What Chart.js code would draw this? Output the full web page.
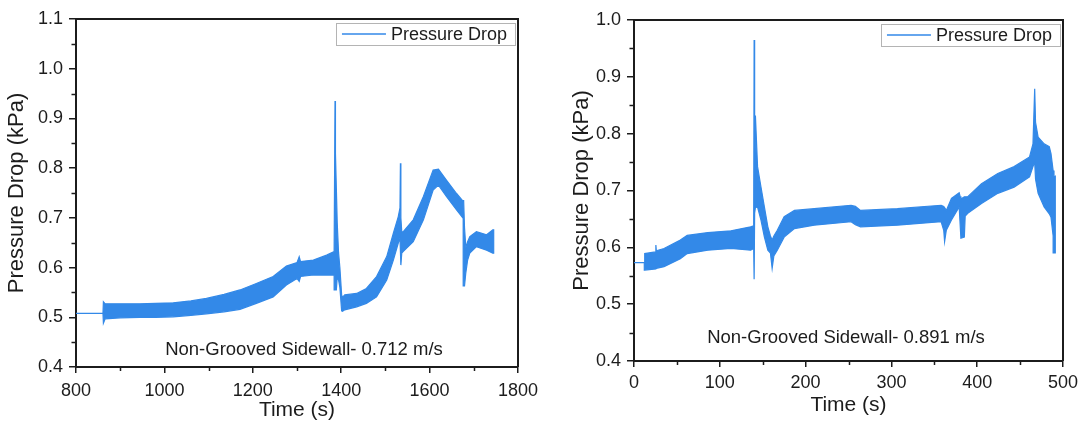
<!DOCTYPE html>
<html>
<head>
<meta charset="utf-8">
<script src="https://cdn.jsdelivr.net/npm/chart.js@4.4.1/dist/chart.umd.min.js"></script>
<style>
    html, body { margin: 0; padding: 0; background: #fff; }
    #wrap { display: flex; width: 1080px; height: 424px; }
    canvas { display: block; }
</style>
</head>
<body>
<div id="wrap">
    <canvas id="leftChart" width="540" height="424"></canvas>
    <canvas id="rightChart" width="540" height="424"></canvas>
</div>
<script>
// Left panel, 0.712 m/s. The signal is a dense noisy band, so it is kept
// as the upper and lower edge of that band.
var leftTime = [800, 861, 862, 866, 900, 944, 980, 1020, 1060, 1095, 1135, 1171, 1208, 1246, 1276, 1300,
    1305, 1308, 1337, 1367, 1384, 1385, 1386, 1387, 1389, 1391, 1394, 1397, 1401, 1403, 1408, 1435, 1457,
    1480, 1503, 1518, 1529, 1533, 1534, 1535, 1537, 1540, 1563, 1586, 1608, 1620, 1638, 1661, 1676, 1677,
    1679, 1682, 1686, 1691, 1706, 1729, 1743, 1745];
var leftUpper = [0.508, 0.508, 0.531, 0.527, 0.527, 0.527, 0.528, 0.529, 0.533, 0.538, 0.546, 0.555, 0.568, 0.582, 0.603, 0.610,
    0.622, 0.612, 0.615, 0.625, 0.632, 0.632, 0.935, 0.830, 0.760, 0.690, 0.630, 0.600, 0.545, 0.540, 0.545, 0.548, 0.558,
    0.582, 0.622, 0.669, 0.702, 0.720, 0.810, 0.700, 0.672, 0.672, 0.696, 0.743, 0.796, 0.798, 0.776, 0.749, 0.733, 0.736,
    0.680, 0.640, 0.652, 0.662, 0.672, 0.666, 0.676, 0.676];
var leftLower = [0.508, 0.508, 0.488, 0.497, 0.499, 0.500, 0.500, 0.501, 0.504, 0.507, 0.511, 0.516, 0.528, 0.541, 0.565, 0.578,
    0.572, 0.582, 0.585, 0.585, 0.585, 0.555, 0.555, 0.555, 0.555, 0.580, 0.575, 0.560, 0.513, 0.512, 0.515, 0.521, 0.528,
    0.541, 0.575, 0.615, 0.649, 0.660, 0.605, 0.605, 0.629, 0.632, 0.652, 0.696, 0.756, 0.766, 0.743, 0.716, 0.699, 0.563,
    0.563, 0.590, 0.615, 0.629, 0.642, 0.635, 0.629, 0.629];
var leftXTicks = [800, 1000, 1200, 1400, 1600, 1800];
var leftXMinor = [900, 1100, 1300, 1500, 1700];
var leftYTicks = [0.4, 0.5, 0.6, 0.7, 0.8, 0.9, 1.0, 1.1];
var leftYMinor = [0.45, 0.55, 0.65, 0.75, 0.85, 0.95, 1.05];
var leftNote = 'Non-Grooved Sidewall- 0.712 m/s';

// Right panel, 0.891 m/s
var rightTime = [0, 12, 12.5, 25, 25.5, 26, 35, 54, 62, 86, 113, 136, 139.5, 140, 140.6, 141.5, 144, 148, 152,
    156, 159, 161, 163, 167, 175, 187, 210, 253, 258, 264, 307, 358, 361, 362, 364, 370, 379, 380, 381, 385,
    386, 389, 405, 424, 443, 461, 465, 467, 468, 471, 478, 484, 486, 488.5, 489.5, 491];
var rightUpper = [0.573, 0.573, 0.589, 0.592, 0.604, 0.594, 0.598, 0.613, 0.621, 0.626, 0.629, 0.636, 0.638, 0.965, 0.700, 0.832, 0.742, 0.706, 0.671,
    0.636, 0.620, 0.613, 0.620, 0.630, 0.654, 0.665, 0.668, 0.674, 0.672, 0.665, 0.668, 0.674, 0.672, 0.670, 0.665, 0.686, 0.696, 0.690, 0.685, 0.689,
    0.689, 0.689, 0.712, 0.730, 0.742, 0.759, 0.782, 0.879, 0.820, 0.794, 0.782, 0.777, 0.765, 0.735, 0.724, 0.725];
var rightLower = [0.573, 0.573, 0.560, 0.562, 0.562, 0.563, 0.566, 0.580, 0.589, 0.595, 0.598, 0.595, 0.598, 0.544, 0.660, 0.670, 0.671, 0.648, 0.618,
    0.595, 0.590, 0.563, 0.585, 0.595, 0.618, 0.633, 0.639, 0.645, 0.640, 0.636, 0.639, 0.645, 0.630, 0.610, 0.630, 0.648, 0.671, 0.616, 0.616, 0.618,
    0.655, 0.660, 0.677, 0.695, 0.706, 0.724, 0.742, 0.750, 0.720, 0.695, 0.671, 0.659, 0.653, 0.620, 0.590, 0.590];
var rightXTicks = [0, 100, 200, 300, 400, 500];
var rightXMinor = [50, 150, 250, 350, 450];
var rightYTicks = [0.4, 0.5, 0.6, 0.7, 0.8, 0.9, 1.0];
var rightYMinor = [0.45, 0.55, 0.65, 0.75, 0.85, 0.95];
var rightNote = 'Non-Grooved Sidewall- 0.891 m/s';

(function (window) {

    var FONT = '"Liberation Sans", Arial, sans-serif';
    var INK = '#1c1c1c';
    var BLUE = '#3389e8';

    // outline of the noisy band: along the top edge, then back along the bottom
    function bandPoints(xs, top, bottom) {
        var pts = xs.map(function (x, i) { return { x: x, y: top[i] }; });
        for (var i = xs.length - 1; i >= 0; i--) {
            pts.push({ x: xs[i], y: bottom[i] });
        }
        return pts;
    }

    // box frame, minor ticks, the note under the curve and the boxed legend
    var decorPlugin = {
        id: 'decor',
        afterDraw: function (chart, args, o) {
            var ctx = chart.ctx;
            var a = chart.chartArea;
            var xs = chart.scales.x;
            var ys = chart.scales.y;
            ctx.save();

            ctx.strokeStyle = INK;
            ctx.lineWidth = 2;
            ctx.beginPath();
            ctx.moveTo(a.left, a.top);
            ctx.lineTo(a.right, a.top);
            ctx.lineTo(a.right, a.bottom);
            ctx.stroke();

            ctx.lineWidth = 1.5;
            ctx.beginPath();
            o.xMinor.forEach(function (v) {
                var px = Math.round(xs.getPixelForValue(v)) + 0.5;
                ctx.moveTo(px, a.bottom);
                ctx.lineTo(px, a.bottom + 4);
            });
            o.yMinor.forEach(function (v) {
                var py = Math.round(ys.getPixelForValue(v)) + 0.5;
                ctx.moveTo(a.left, py);
                ctx.lineTo(a.left - 4.5, py);
            });
            ctx.stroke();

            ctx.fillStyle = INK;
            ctx.font = '18.5px ' + FONT;
            ctx.textAlign = 'center';
            ctx.textBaseline = 'alphabetic';
            ctx.fillText(o.note, o.noteX, o.noteY);

            // legend
            var label = chart.data.datasets[0].label;
            ctx.font = '18px ' + FONT;
            var tw = ctx.measureText(label).width;
            var w = 6 + 44 + 5 + tw + 8;
            var h = 22;
            var bx = a.right - 3 - w;
            var by = a.top + 4;
            ctx.fillStyle = '#ffffff';
            ctx.fillRect(bx, by, w, h);
            ctx.strokeStyle = '#b4b4b4';
            ctx.lineWidth = 1;
            ctx.strokeRect(Math.round(bx) + 0.5, Math.round(by) + 0.5, Math.round(w), h);
            ctx.strokeStyle = BLUE;
            ctx.lineWidth = 1.3;
            ctx.beginPath();
            ctx.moveTo(bx + 6, by + h / 2);
            ctx.lineTo(bx + 50, by + h / 2);
            ctx.stroke();
            ctx.fillStyle = INK;
            ctx.textAlign = 'left';
            ctx.textBaseline = 'middle';
            ctx.fillText(label, bx + 55, by + h / 2 + 1);

            ctx.restore();
        }
    };

    function makeChart(id, p) {
        var ctx = document.getElementById(id);
        if (!ctx) {
            return;
        }
        return new Chart(ctx.getContext('2d'), {
            type: 'line',
            data: {
                datasets: [
                    {
                        label: 'Pressure Drop',
                        data: bandPoints(p.time, p.upper, p.lower),
                        borderColor: BLUE,
                        backgroundColor: BLUE,
                        borderWidth: 1.2,
                        pointRadius: 0,
                        tension: 0,
                        fill: 'shape'
                    }
                ]
            },
            options: {
                responsive: false,
                animation: false,
                events: [],
                layout: { padding: { left: 0, top: p.top, right: p.right, bottom: 0 } },
                plugins: {
                    legend: { display: false },
                    tooltip: { enabled: false },
                    decor: { xMinor: p.xMinor, yMinor: p.yMinor, note: p.note, noteX: p.noteX, noteY: p.noteY }
                },
                scales: {
                    x: {
                        type: 'linear',
                        min: p.xTicks[0],
                        max: p.xTicks[p.xTicks.length - 1],
                        afterFit: function (s) {
                            s.height = p.xHeight;
                            s.paddingLeft = 0;
                            s.paddingRight = 0;
                        },
                        afterBuildTicks: function (s) {
                            s.ticks = p.xTicks.map(function (v) { return { value: v }; });
                        },
                        ticks: {
                            autoSkip: false,
                            maxRotation: 0,
                            padding: p.xPad,
                            color: INK,
                            font: { family: FONT, size: 18 },
                            callback: function (v) { return String(v); }
                        },
                        grid: { drawOnChartArea: false, drawTicks: true, tickLength: 6, color: INK, lineWidth: 1.5 },
                        border: { display: true, color: INK, width: 2 },
                        title: {
                            display: true,
                            text: 'Time (s)',
                            color: INK,
                            font: { family: FONT, size: 21 },
                            padding: { top: 0, bottom: p.xTitlePad }
                        }
                    },
                    y: {
                        min: p.yTicks[0],
                        max: p.yTicks[p.yTicks.length - 1],
                        afterFit: function (s) {
                            s.width = p.yWidth;
                            s.paddingTop = 0;
                            s.paddingBottom = 0;
                        },
                        afterBuildTicks: function (s) {
                            s.ticks = p.yTicks.map(function (v) { return { value: v }; });
                        },
                        ticks: {
                            padding: 6,
                            color: INK,
                            font: { family: FONT, size: 18 },
                            callback: function (v) { return Number(v).toFixed(1); }
                        },
                        grid: { drawOnChartArea: false, drawTicks: true, tickLength: 7, color: INK, lineWidth: 1.5 },
                        border: { display: true, color: INK, width: 2 },
                        title: {
                            display: true,
                            text: 'Pressure Drop (kPa)',
                            color: INK,
                            font: { family: FONT, size: 22 },
                            padding: { top: p.yTitlePad, bottom: 0 }
                        }
                    }
                }
            },
            plugins: [decorPlugin]
        });
    }

    function initializeCharts() {
        makeChart('leftChart', {
            time: leftTime, upper: leftUpper, lower: leftLower,
            xTicks: leftXTicks, xMinor: leftXMinor, yTicks: leftYTicks, yMinor: leftYMinor,
            note: leftNote, noteX: 304, noteY: 355,
            top: 19, right: 22, yWidth: 76, xHeight: 57,
            xPad: 7, xTitlePad: 1, yTitlePad: 4
        });
        makeChart('rightChart', {
            time: rightTime, upper: rightUpper, lower: rightLower,
            xTicks: rightXTicks, xMinor: rightXMinor, yTicks: rightYTicks, yMinor: rightYMinor,
            note: rightNote, noteX: 306, noteY: 343,
            top: 20, right: 17, yWidth: 94, xHeight: 63,
            xPad: 5, xTitlePad: 6, yTitlePad: 29
        });
    }

    document.addEventListener('DOMContentLoaded', initializeCharts);

})(window);
</script>
</body>
</html>
